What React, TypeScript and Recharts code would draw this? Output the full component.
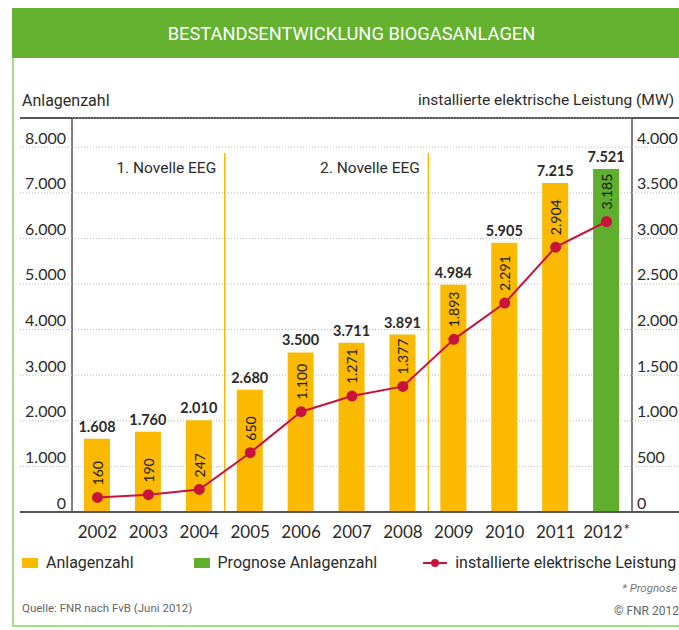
import { ComposedChart, Bar, Line, XAxis, YAxis, CartesianGrid, ReferenceLine, LabelList } from 'recharts';

const years = ['2002', '2003', '2004', '2005', '2006', '2007', '2008', '2009', '2010', '2011', '2012'];
const anlagenzahl = [1608, 1760, 2010, 2680, 3500, 3711, 3891, 4984, 5905, 7215, null];
const prognoseAnlagenzahl = [null, null, null, null, null, null, null, null, null, null, 7521];
const leistungMW = [160, 190, 247, 650, 1100, 1271, 1377, 1893, 2291, 2904, 3185];
const prognoseYears = ['2012'];
const countTicks = [0, 1000, 2000, 3000, 4000, 5000, 6000, 7000, 8000];
const mwTicks = [0, 500, 1000, 1500, 2000, 2500, 3000, 3500, 4000];
const novellen = [
  { year: '2005', label: '1. Novelle EEG' },
  { year: '2009', label: '2. Novelle EEG' },
];

const ORANGE = '#fbb900';
const GREEN = '#5fae2e';
const RED = '#c8143c';
const TEXT = '#2b2b2b';
const NARROW = 'Roboto, "DejaVu Sans Condensed", sans-serif';
const ROUND = 'Lato, "Open Sans", sans-serif';

const W = 679;
const H = 630;
const PLOT_LEFT = 72;
const PLOT_RIGHT = 632;
const PLOT_TOP = 118;
const FRAME_LEFT = 20;

const data = years.map((year, i) => ({
  year,
  anlagenzahl: anlagenzahl[i],
  prognose: prognoseAnlagenzahl[i],
  leistung: leistungMW[i],
}));

const fmt = (v: number) => String(v).replace(/\B(?=(\d{3})+(?!\d))/g, '.');

const LeftTick = ({ y, payload }: any) => (
  <g>
    {payload.value === 0 ? (
      <line x1={FRAME_LEFT} x2={PLOT_LEFT} y1={y} y2={y} stroke="#555" strokeWidth={2} />
    ) : (
      <line x1={FRAME_LEFT} x2={PLOT_LEFT} y1={y} y2={y} stroke="#bbb" strokeDasharray="1 2" />
    )}
    <text x={PLOT_LEFT - 6} y={y - 3.5} textAnchor="end" fontSize={16} fontFamily={ROUND} fill={TEXT}>
      {fmt(payload.value)}
    </text>
  </g>
);

const RightTick = ({ y, payload }: any) => (
  <g>
    {payload.value === 0 ? (
      <line x1={PLOT_RIGHT} x2={W} y1={y} y2={y} stroke="#555" strokeWidth={2} />
    ) : (
      <line x1={PLOT_RIGHT} x2={W} y1={y} y2={y} stroke="#bbb" strokeDasharray="1 2" />
    )}
    <text x={PLOT_RIGHT + 5} y={y - 3.5} textAnchor="start" fontSize={16} fontFamily={ROUND} fill={TEXT}>
      {fmt(payload.value)}
    </text>
  </g>
);

const YearTick = ({ x, y, payload }: any) => (
  <text x={x} y={y + 18} textAnchor="middle" fontSize={17} fontFamily={ROUND} fill={TEXT}>
    {payload.value}
    {prognoseYears.includes(payload.value) && <tspan dx={1} dy={-3} fontSize={15}>*</tspan>}
  </text>
);

const TopLabel = ({ x, y, width, value }: any) =>
  value == null ? null : (
    <text x={x + width / 2} y={y - 7} textAnchor="middle" fontSize={14.5} fontWeight={700} fontFamily={ROUND} fill={TEXT}>
      {fmt(value)}
    </text>
  );

const RotatedLabel = ({ x, y, value }: any) => {
  const ly = y - 12;
  return (
    <text
      x={x}
      y={ly}
      transform={`rotate(-90 ${x} ${ly})`}
      textAnchor="start"
      dominantBaseline="central"
      fontSize={14}
      fontFamily={ROUND}
      fill="#1a1a1a"
    >
      {fmt(value)}
    </text>
  );
};

const LegendItem = ({ icon, label }: { icon: React.ReactNode; label: string }) => (
  <div style={{ display: 'flex', alignItems: 'center', gap: 8 }}>
    {icon}
    <span>{label}</span>
  </div>
);

export default function App() {
  return (
    <div style={{ position: 'absolute', left: 0, top: 0, width: W, height: H, background: '#fff', overflow: 'hidden', fontFamily: NARROW, color: TEXT }}>
      <div style={{ position: 'absolute', left: 12, top: 8, width: W - 12, height: 50, background: '#64b22f', color: '#fff', fontSize: 18.3, display: 'flex', alignItems: 'center', justifyContent: 'center', paddingLeft: 12, boxSizing: 'border-box' }}>
        BESTANDSENTWICKLUNG BIOGASANLAGEN
      </div>
      <div style={{ position: 'absolute', left: 12, top: 58, width: 2, height: 568, background: '#a8dc8a' }} />
      <div style={{ position: 'absolute', left: 12, top: 625, width: W - 12, height: 2, background: '#a8dc8a' }} />

      <div style={{ position: 'absolute', left: 22, top: 91, fontSize: 16 }}>Anlagenzahl</div>
      <div style={{ position: 'absolute', left: 418, top: 91, fontSize: 15.5, whiteSpace: 'nowrap' }}>installierte elektrische Leistung (MW)</div>
      <div style={{ position: 'absolute', left: FRAME_LEFT, top: PLOT_TOP - 1, width: W - FRAME_LEFT, height: 2, background: '#555' }} />

      <div style={{ position: 'absolute', left: 0, top: 0 }}>
        <ComposedChart
          width={W}
          height={H}
          data={data}
          margin={{ top: PLOT_TOP, right: 0, bottom: 88, left: 20 }}
          barCategoryGap={12}
        >
          <CartesianGrid yAxisId="count" vertical={false} stroke="#bbb" strokeDasharray="1 2" />
          <XAxis dataKey="year" height={30} axisLine={{ stroke: '#555', strokeWidth: 2 }} tickLine={false} tick={<YearTick />} interval={0} />
          <YAxis yAxisId="count" width={52} domain={[0, 8640]} ticks={countTicks} axisLine={{ stroke: '#555', strokeWidth: 1.5 }} tickLine={false} tick={<LeftTick />} />
          <YAxis yAxisId="mw" orientation="right" width={47} domain={[0, 4320]} ticks={mwTicks} axisLine={{ stroke: '#555', strokeWidth: 1.5 }} tickLine={false} tick={<RightTick />} />
          <Bar yAxisId="count" dataKey="anlagenzahl" stackId="a" fill={ORANGE} barSize={26} isAnimationActive={false}>
            <LabelList dataKey="anlagenzahl" content={<TopLabel />} />
          </Bar>
          <Bar yAxisId="count" dataKey="prognose" stackId="a" fill={GREEN} barSize={26} isAnimationActive={false}>
            <LabelList dataKey="prognose" content={<TopLabel />} />
          </Bar>
          {novellen.map((n) => (
            <ReferenceLine
              key={n.year}
              yAxisId="count"
              segment={[{ x: n.year, y: 0 }, { x: n.year, y: 7870 }]}
              position="start"
              stroke={ORANGE}
              strokeWidth={1.5}
              label={{ value: n.label, position: 'insideTopRight', offset: 8.5, fontSize: 15.5, fill: TEXT, fontFamily: NARROW }}
            />
          ))}
          <Line yAxisId="mw" dataKey="leistung" stroke={RED} strokeWidth={2} dot={{ r: 4.5, fill: RED, stroke: RED }} isAnimationActive={false}>
            <LabelList dataKey="leistung" content={<RotatedLabel />} />
          </Line>
        </ComposedChart>
      </div>

      <div style={{ position: 'absolute', left: 22, top: 553, fontSize: 16, display: 'flex', whiteSpace: 'nowrap' }}>
        <LegendItem icon={<span style={{ width: 16, height: 10, background: ORANGE, display: 'inline-block' }} />} label="Anlagenzahl" />
        <div style={{ width: 60 }} />
        <LegendItem icon={<span style={{ width: 16, height: 10, background: GREEN, display: 'inline-block' }} />} label="Prognose Anlagenzahl" />
        <div style={{ width: 46 }} />
        <LegendItem
          icon={
            <svg width={24} height={12}>
              <line x1={0} x2={24} y1={6} y2={6} stroke={RED} strokeWidth={2} />
              <circle cx={12} cy={6} r={4} fill={RED} />
            </svg>
          }
          label="installierte elektrische Leistung"
        />
      </div>
      <div style={{ position: 'absolute', left: 622, top: 581, fontSize: 11.5, fontStyle: 'italic', color: '#777', whiteSpace: 'nowrap' }}>* Prognose</div>
      <div style={{ position: 'absolute', left: 22, top: 601, fontSize: 11.5, color: '#666', whiteSpace: 'nowrap' }}>Quelle: FNR nach FvB (Juni 2012)</div>
      <div style={{ position: 'absolute', left: 614, top: 604, fontSize: 12, color: '#666', whiteSpace: 'nowrap' }}>© FNR 2012</div>
    </div>
  );
}
